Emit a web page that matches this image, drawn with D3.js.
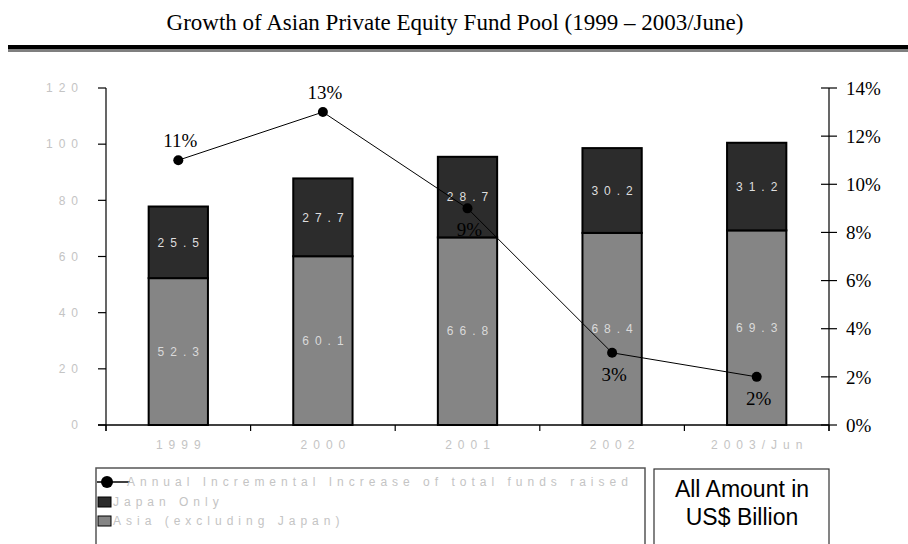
<!DOCTYPE html>
<html>
<head>
<meta charset="utf-8">
<script src="https://cdn.jsdelivr.net/npm/d3@7"></script>
<style>
  body { margin: 0; background: #fff; }
  svg { display: block; }
</style>
</head>
<body>
<svg id="chart" width="908" height="544"></svg>
<script>
  // values (US$ billion / %)
  const years = ['1999', '2000', '2001', '2002', '2003/Jun'];
  const asiaExJapan = [52.3, 60.1, 66.8, 68.4, 69.3];
  const japanOnly = [25.5, 27.7, 28.7, 30.2, 31.2];
  const growthPct = [11, 13, 9, 3, 2];
  const leftTicks = [0, 20, 40, 60, 80, 100, 120];
  const rightTicks = [0, 2, 4, 6, 8, 10, 12, 14];
  const legendLabels = ['Annual Incremental Increase of total funds raised', 'Japan Only', 'Asia (excluding Japan)'];
  const noteLines = ['All Amount in', 'US$ Billion'];
  const title = 'Growth of Asian Private Equity Fund Pool (1999 \u2013 2003/June)';

  const colJapan = '#2c2c2c';
  const colAsia = '#858585';
  const colFaint = '#c4c4c4';

  const svg = d3.select('#chart');
  const plotL = 106, plotR = 829, plotT = 88, plotB = 425;

  const x = d3.scaleBand().domain(years).range([plotL, plotR])
    .paddingInner(0.59).paddingOuter(0.295);
  const step = x.step();
  const y = d3.scaleLinear().domain([0, 120]).range([plotB, plotT]);
  const yR = d3.scaleLinear().domain([0, 14]).range([plotB, plotT]);

  // title + double rule
  svg.append('text')
    .attr('x', 455).attr('y', 30)
    .attr('text-anchor', 'middle')
    .style('font-family', '"Liberation Serif", "Times New Roman", serif')
    .style('font-size', '23px')
    .text(title);
  svg.append('rect').attr('x', 8).attr('y', 45).attr('width', 900).attr('height', 4.5).attr('fill', '#000');
  svg.append('line').attr('x1', 8).attr('x2', 908).attr('y1', 51).attr('y2', 51)
    .attr('stroke', '#555').attr('stroke-width', 1.5);

  // stacked bars
  const stack = years.map((yr, i) => ({yr, asia: asiaExJapan[i], japan: japanOnly[i]}));
  const g = svg.append('g');
  g.selectAll('.asia').data(stack).enter().append('rect')
    .attr('class', 'asia')
    .attr('x', d => x(d.yr)).attr('width', x.bandwidth())
    .attr('y', d => y(d.asia)).attr('height', d => y(0) - y(d.asia))
    .attr('fill', colAsia).attr('stroke', '#000').attr('stroke-width', 2);
  g.selectAll('.japan').data(stack).enter().append('rect')
    .attr('class', 'japan')
    .attr('x', d => x(d.yr)).attr('width', x.bandwidth())
    .attr('y', d => y(d.asia + d.japan)).attr('height', d => y(d.asia) - y(d.asia + d.japan))
    .attr('fill', colJapan).attr('stroke', '#000').attr('stroke-width', 2);

  const spaced = sel => sel
    .style('font-family', 'Arial, "Liberation Sans", sans-serif')
    .style('font-size', '12px')
    .style('letter-spacing', '6px');

  g.selectAll('.lblAsia').data(stack).enter().append('text')
    .attr('x', d => x(d.yr) + x.bandwidth() / 2 + 3)
    .attr('y', d => y(d.asia / 2)).attr('dy', '0.35em')
    .attr('text-anchor', 'middle').attr('fill', '#dadada')
    .call(spaced).text(d => d.asia.toFixed(1));
  g.selectAll('.lblJapan').data(stack).enter().append('text')
    .attr('x', d => x(d.yr) + x.bandwidth() / 2 + 3)
    .attr('y', d => y(d.asia + d.japan / 2)).attr('dy', '0.35em')
    .attr('text-anchor', 'middle').attr('fill', '#dedede')
    .call(spaced).text(d => d.japan.toFixed(1));

  // axes
  const ax = svg.append('g').attr('stroke', '#000').attr('stroke-width', 1.2);
  ax.append('line').attr('x1', plotL).attr('x2', plotL).attr('y1', plotT).attr('y2', plotB + 6);
  ax.append('line').attr('x1', plotR).attr('x2', plotR).attr('y1', plotT).attr('y2', plotB + 6);
  ax.append('line').attr('x1', plotL - 8).attr('x2', plotR).attr('y1', plotB).attr('y2', plotB).attr('stroke-width', 1.5);
  ax.selectAll('.lt').data(leftTicks).enter().append('line')
    .attr('x1', plotL - 8).attr('x2', plotL).attr('y1', d => y(d)).attr('y2', d => y(d));
  ax.selectAll('.rt').data(rightTicks).enter().append('line')
    .attr('x1', plotR - 8).attr('x2', plotR + 8).attr('y1', d => yR(d)).attr('y2', d => yR(d));
  ax.selectAll('.xt').data(d3.range(years.length + 1)).enter().append('line')
    .attr('x1', i => plotL + i * step).attr('x2', i => plotL + i * step)
    .attr('y1', plotB).attr('y2', plotB + 6);

  svg.selectAll('.ll').data(leftTicks).enter().append('text')
    .attr('x', 84).attr('y', d => y(d)).attr('dy', '0.35em')
    .attr('text-anchor', 'end').attr('fill', colFaint)
    .call(spaced).text(d => d);
  svg.selectAll('.rl').data(rightTicks).enter().append('text')
    .attr('x', 846).attr('y', d => yR(d)).attr('dy', '0.35em')
    .style('font-family', '"Liberation Serif", "Times New Roman", serif')
    .style('font-size', '19px')
    .text(d => d + '%');
  svg.selectAll('.xl').data(years).enter().append('text')
    .attr('x', d => x(d) + x.bandwidth() / 2 + 3).attr('y', 449)
    .attr('text-anchor', 'middle').attr('fill', colFaint)
    .call(spaced).text(d => d);

  // growth line
  const pts = years.map((yr, i) => ({yr, v: growthPct[i], up: i === 0 || growthPct[i] > growthPct[i - 1]}));
  const cx = d => x(d.yr) + x.bandwidth() / 2;
  svg.append('path').datum(pts)
    .attr('d', d3.line().x(cx).y(d => yR(d.v)))
    .attr('fill', 'none').attr('stroke', '#000').attr('stroke-width', 1);
  svg.selectAll('.pt').data(pts).enter().append('circle')
    .attr('cx', cx).attr('cy', d => yR(d.v)).attr('r', 5).attr('fill', '#000');
  svg.selectAll('.pl').data(pts).enter().append('text')
    .attr('x', d => cx(d) + 2).attr('y', d => yR(d.v) + (d.up ? -13 : 28))
    .attr('text-anchor', 'middle')
    .style('font-family', '"Liberation Serif", "Times New Roman", serif')
    .style('font-size', '19px')
    .text(d => d.v + '%');

  // legend
  const lg = svg.append('g');
  lg.append('rect').attr('x', 96).attr('y', 468).attr('width', 549).attr('height', 100)
    .attr('fill', 'none').attr('stroke', '#555').attr('stroke-width', 1.5);
  const rowY = [482, 502, 521];
  lg.append('line').attr('x1', 97).attr('x2', 130).attr('y1', rowY[0]).attr('y2', rowY[0])
    .attr('stroke', '#000').attr('stroke-width', 1.5);
  lg.append('circle').attr('cx', 107).attr('cy', rowY[0]).attr('r', 6).attr('fill', '#000');
  [colJapan, colAsia].forEach((c, i) => {
    lg.append('rect').attr('x', 98).attr('y', rowY[i + 1] - 5).attr('width', 13).attr('height', 10)
      .attr('fill', c).attr('stroke', '#000').attr('stroke-width', 1);
  });
  lg.selectAll('.lt').data(legendLabels).enter().append('text')
    .attr('x', (d, i) => i === 0 ? 127 : 113).attr('y', (d, i) => rowY[i]).attr('dy', '0.35em')
    .attr('fill', colFaint)
    .call(spaced).style('letter-spacing', '5px')
    .text(d => d);

  // units note
  svg.append('rect').attr('x', 654).attr('y', 469).attr('width', 175).attr('height', 100)
    .attr('fill', 'none').attr('stroke', '#333').attr('stroke-width', 1.2);
  svg.selectAll('.note').data(noteLines).enter().append('text')
    .attr('x', 742).attr('y', (d, i) => 497 + i * 28)
    .attr('text-anchor', 'middle')
    .style('font-family', 'Arial, "Liberation Sans", sans-serif')
    .style('font-size', '23px')
    .text(d => d);
</script>
</body>
</html>
